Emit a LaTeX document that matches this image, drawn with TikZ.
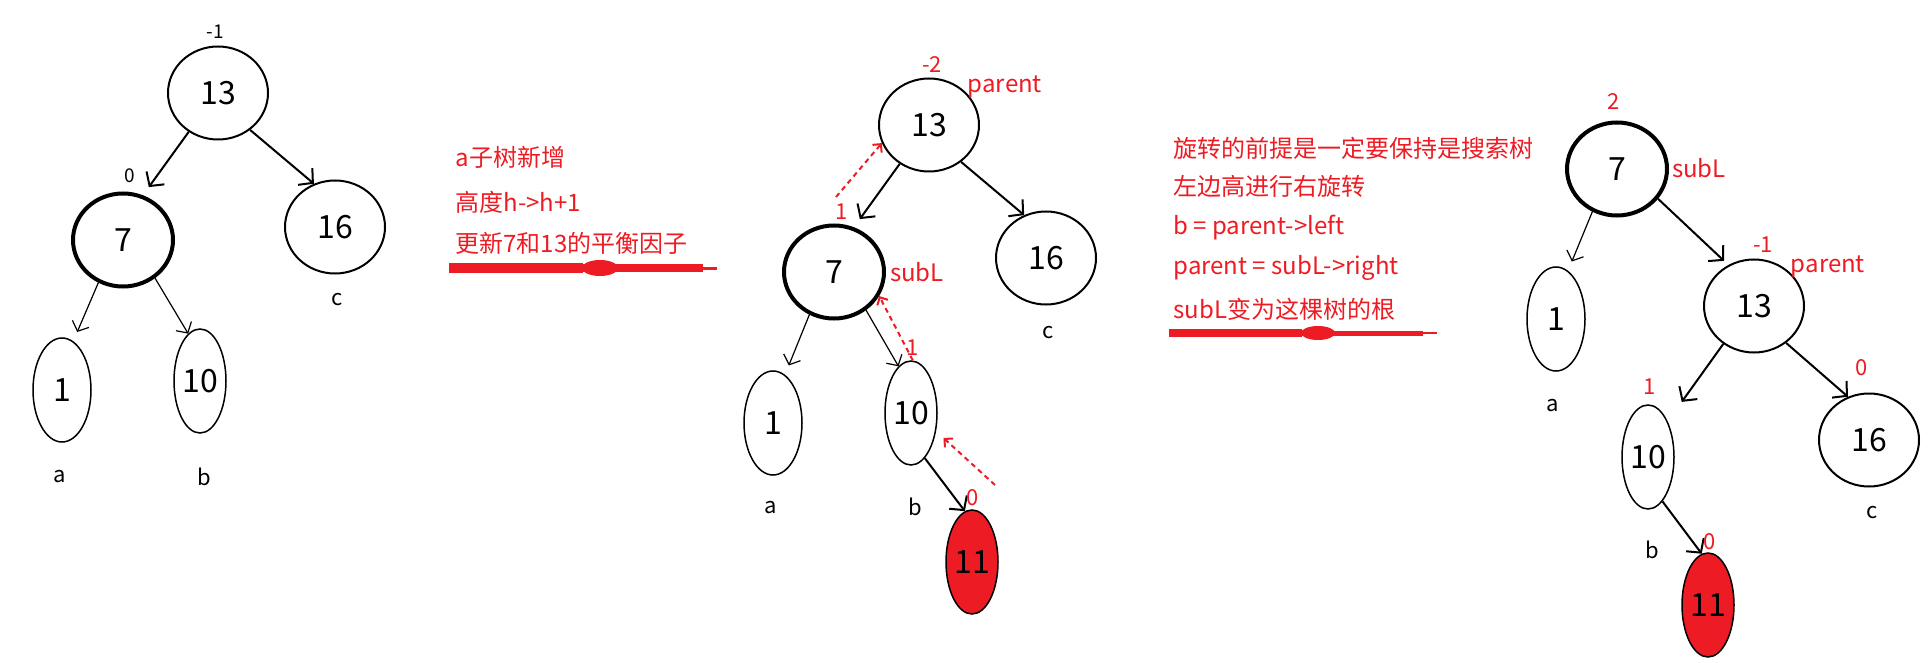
\documentclass[tikz,border=0pt]{standalone}
\usepackage{fontspec}
\setmainfont{Noto Sans CJK SC}
\usetikzlibrary{shapes.geometric,arrows.meta}
\definecolor{paintred}{RGB}{237,28,36}

\tikzset{
  tnode/.style={draw, ellipse, line width=2pt, inner sep=0pt,
    minimum width=100pt, minimum height=93pt, font=\fontsize{32}{32}\selectfont},
  heavy/.style={tnode, line width=4pt},
  slim/.style={tnode, line width=1.5pt, minimum width=52pt, minimum height=104pt},
  newnode/.style={slim, fill=paintred},
  link/.style={-{Straight Barb[length=10pt,width=22pt]}, line width=2pt},
  thin link/.style={-{Straight Barb[length=8pt,width=18pt]}, line width=1.2pt},
  back/.style={-{Straight Barb[length=6pt,width=12pt]}, paintred, line width=2pt,
    dash pattern=on 5pt off 4pt},
  tag/.style={font=\fontsize{22}{22}\selectfont},
  bf/.style={text=paintred, font=\fontsize{22}{22}\selectfont},
  note/.style={text=paintred, anchor=base west, font=\fontsize{24}{24}\selectfont},
}

\begin{document}
\begin{tikzpicture}[x=1pt,y=-1pt]
\useasboundingbox (0,0) rectangle (1931,663);

% 插入前的树
\node[tnode] (l13) at (218,93) {13};
\node[heavy] (l7) at (123,240) {7};
\node[tnode] (l16) at (335,227) {16};
\node[slim, minimum width=58pt] (l1) at (62,390) {1};
\node[slim] (l10) at (200,381) {10};
\draw[link, shorten >=10pt] (l13.233) -- (l7.66);
\draw[link] (l13.-49) -- (l16.116);
\draw[thin link, shorten >=10pt] (l7.240) -- (l1.77);
\draw[thin link] (l7.-50) -- (l10.104);
\node[tag, font=\fontsize{19}{19}\selectfont] (l13bf) at (215,32) {-1};
\node[tag, font=\fontsize{19}{19}\selectfont] (l7bf) at (130,176) {0};
\node[tag] (lc) at (337,300) {c};
\node[tag] (la) at (60,477) {a};
\node[tag] (lb) at (204,477) {b};

% 第一段说明
\node[note] (t1) at (452,167) {a子树新增};
\node[note] (t2) at (452,212) {高度h->h+1};
\node[note] (t3) at (452,253) {更新7和13的平衡因子};
\fill[paintred] (449,263) rectangle (583,273);
\fill[paintred] (600,268) ellipse (18 and 8);
\fill[paintred] (583,264) rectangle (703,272);
\fill[paintred] (703,267) rectangle (717,270);

% 插入11之后
\node[tnode] (m13) at (929,125) {13};
\node[heavy] (m7) at (834,272) {7};
\node[tnode] (m16) at (1046,258) {16};
\node[slim, minimum width=58pt] (m1) at (773,423) {1};
\node[slim] (m10) at (911,413) {10};
\node[newnode] (m11) at (972,562) {11};
\draw[link, shorten >=10pt] (m13.233) -- (m7.66);
\draw[link] (m13.-49) -- (m16.117);
\draw[thin link, shorten >=10pt] (m7.240) -- (m1.76);
\draw[thin link] (m7.-50) -- (m10.105);
\draw[link] (m10.-73) -- (m11.98);
\coordinate (m7up) at (836,197);
\coordinate (m11up) at (995,485);
\draw[back] (m7up) -- (m13.201);
\draw[back] (m10.88) -- (m7.-28);
\draw[back, shorten >=10pt] (m11up) -- (m10.-36);
\node[bf] (m13bf) at (932,65) {-2};
\node[bf, font=\fontsize{24}{24}\selectfont] (m13name) at (1005,87) {parent};
\node[bf] (m7bf) at (842,212) {1};
\node[bf, font=\fontsize{24}{24}\selectfont] (m7name) at (917,272) {subL};
\node[bf] (m10bf) at (913,348) {1};
\node[bf] (m11bf) at (973,498) {0};
\node[tag] (mc) at (1048,333) {c};
\node[tag] (ma) at (771,508) {a};
\node[tag] (mb) at (915,507) {b};

% 第二段说明
\node[note] (s1) at (1170,158) {旋转的前提是一定要保持是搜索树};
\node[note] (s2) at (1170,196) {左边高进行右旋转};
\node[note] (s3) at (1170,235) {b = parent->left};
\node[note] (s4) at (1170,275) {parent = subL->right};
\node[note] (s5) at (1170,318) {subL变为这棵树的根};
\fill[paintred] (1169,329) rectangle (1302,337);
\fill[paintred] (1318,333) ellipse (17 and 7);
\fill[paintred] (1302,331) rectangle (1423,336);
\fill[paintred] (1423,332) rectangle (1437,334);

% 右旋之后
\node[heavy] (r7) at (1617,169) {7};
\node[slim, minimum width=58pt] (r1) at (1556,319) {1};
\node[tnode] (r13) at (1754,306) {13};
\node[slim] (r10) at (1648,457) {10};
\node[tnode] (r16) at (1869,440) {16};
\node[newnode] (r11) at (1708,605) {11};
\draw[thin link, shorten >=10pt] (r7.240) -- (r1.76);
\draw[link, shorten >=6pt] (r7.-36) -- (r13.122);
\draw[link, shorten >=24pt] (r13.231) -- (r10.61);
\draw[link] (r13.-49) -- (r16.116);
\draw[link] (r10.-72) -- (r11.97);
\node[bf] (r7bf) at (1614,102) {2};
\node[bf, font=\fontsize{24}{24}\selectfont] (r7name) at (1699,168) {subL};
\node[bf] (r13bf) at (1763,245) {-1};
\node[bf, font=\fontsize{24}{24}\selectfont] (r13name) at (1828,267) {parent};
\node[bf] (r10bf) at (1650,387) {1};
\node[bf] (r16bf) at (1862,368) {0};
\node[bf] (r11bf) at (1710,542) {0};
\node[tag] (ra) at (1553,406) {a};
\node[tag] (rc) at (1872,513) {c};
\node[tag] (rb) at (1652,550) {b};
\end{tikzpicture}
\end{document}
